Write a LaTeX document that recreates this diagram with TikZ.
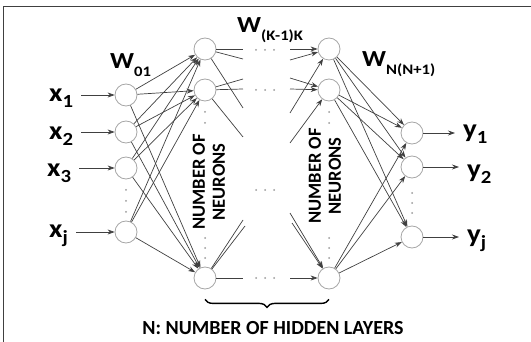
\documentclass[tikz,border=0pt]{standalone}
\usepackage{fontspec}
\setmainfont{Carlito}
\usetikzlibrary{arrows.meta,positioning,decorations.pathreplacing}
% variable with subscript, and weight with subscript
\newcommand{\vsub}[2]{\scalebox{1.12}[1]{{\fontsize{26}{26}\selectfont #1}\raisebox{-6pt}{\fontsize{18.5}{18.5}\selectfont #2}}}
\newcommand{\wsub}[2]{\scalebox{1.15}[1]{{\fontsize{23}{23}\selectfont #1}\raisebox{-8pt}{\fontsize{14.5}{14.5}\selectfont #2}}}
\tikzset{
    %Define standard arrow tip
    >={Stealth[length=7pt,width=5pt]},
    %Define style for neurons
    neuron/.style={
           circle,
           draw=gray!70, line width=0.8pt,
           minimum size=22pt,
           inner sep=0pt},
    % Define connector style
    conn/.style={
           draw=black!75,
           line width=0.7pt},
    lbl/.style={font=\bfseries, anchor=base west, inner xsep=8pt, inner ysep=0pt},
    wlbl/.style={font=\bfseries, anchor=base west, inner sep=0pt},
    vlbl/.style={rotate=90, align=center, font=\bfseries\fontsize{18.5}{17}\selectfont},
    dotc/.style={fill=gray!80},
    brc/.style={decorate, decoration={brace, amplitude=8pt}, line width=1.4pt}
}
\begin{document}
\begin{tikzpicture}[x=1pt,y=-1pt]
\useasboundingbox (0,0) rectangle (531,342);
% frame
\draw[black!75, line width=0.8pt] (531,6) -- (3,6) -- (3,342);

 %nodes
\foreach \n/\yy in {i1/95, i2/132, i3/168, ij/232}
    \node[neuron] (\n) at (126,\yy) {};
\foreach \n/\yy in {1/49, 2/90, 3/278} {
    \node[neuron] (ha\n) at (205,\yy) {};
    \node[neuron] (hb\n) at (329,\yy) {};
}
\foreach \n/\yy in {o1/133, o2/167, oj/237}
    \node[neuron] (\n) at (412,\yy) {};

 %labels
\node[lbl] (x1) at (41,102) {\vsub{x}{1}};
\node[lbl] (x2) at (41,140) {\vsub{x}{2}};
\node[lbl] (x3) at (39,177) {\vsub{x}{3}};
\node[lbl] (xj) at (41,238) {\vsub{x}{j}};
\node[lbl] (y1) at (455,138) {\vsub{y}{1}};
\node[lbl] (y2) at (459,178) {\vsub{y}{2}};
\node[lbl] (yj) at (459,243) {\vsub{y}{j}};
\node[wlbl] (w01) at (110,69) {\wsub{W}{01}};
\node[wlbl] (wkk) at (237,33) {\wsub{W}{(K-1)K}};
\node[wlbl] (wnn) at (362,67) {\wsub{W}{N(N+1)}};
\node[vlbl] (na) at (209,182) {NUMBER OF\\[3pt]NEURONS};
\node[vlbl] (nb) at (325,176) {NUMBER OF\\[3pt]NEURONS};
\node[font=\bfseries\fontsize{20}{20}\selectfont] (nl) at (273,328) {N: NUMBER OF HIDDEN LAYERS};

 %inputs and outputs
\foreach \n in {1,2,3,j}
    \draw[conn,->] (x\n.east |- i\n) -- (i\n);
\foreach \n in {1,2,j}
    \draw[conn,->] (o\n) -- (o\n -| y\n.west);

 %weights
\foreach \a in {i1,i2,i3,ij}
    \foreach \b in {ha1,ha2,ha3}
        \draw[conn,->] (\a) -- (\b);
\foreach \a in {hb1,hb2,hb3}
    \foreach \b in {o1,o2,oj}
        \draw[conn,->] (\a) -- (\b);
\foreach \from/\xx/\yy [count=\k] in {ha1/243/49, ha1/243/59, ha1/243/108, ha2/243/79, ha2/243/89, ha2/243/137, ha3/243/278, ha3/243/220, ha3/245/226} {
    \coordinate (sl\k) at (\xx,\yy);
    \draw[conn] (\from) -- (sl\k);
}
\foreach \to/\xx/\yy [count=\k] in {hb1/290/49, hb1/290/60, hb1/290/113, hb2/290/78, hb2/290/89, hb2/290/143, hb3/290/278, hb3/290/213, hb3/292/223} {
    \coordinate (sr\k) at (\xx,\yy);
    \draw[conn,->] (sr\k) -- (\to);
}

 %dots
\foreach \xx/\yy in {126/190, 126/201, 126/212, 412/193, 412/203, 412/213, 205/112, 205/123, 205/238, 205/248, 205/258, 329/112, 329/123, 329/238, 329/248, 329/258}
    \fill[dotc] (\xx,\yy) circle[radius=1pt];
\foreach \yy in {50, 90, 190, 278}
    \foreach \xx in {256, 265, 274}
        \fill[dotc] (\xx,\yy) circle[radius=1pt];

 %brace
\draw[brc] ([yshift=-10pt]hb3.south) -- ([yshift=-10pt]ha3.south);

\end{tikzpicture}
\end{document}
